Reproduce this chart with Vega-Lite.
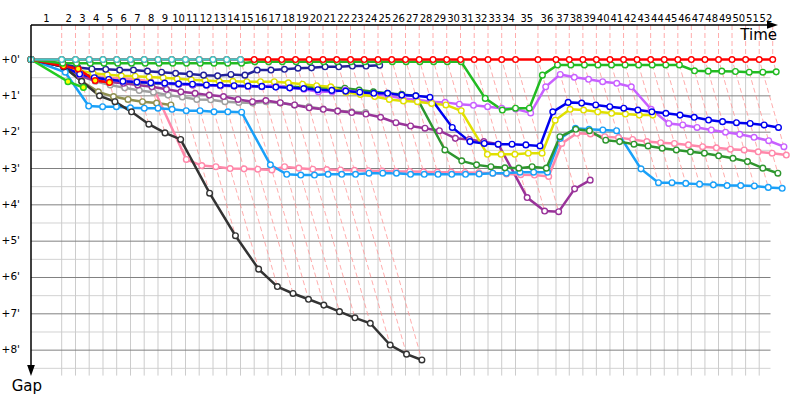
{
"$schema": "https://vega.github.io/schema/vega-lite/v6.json",
"width": 769, "height": 375,
"autosize": {"type": "none"},
"padding": {"left": 31, "top": 25, "right": 0, "bottom": 0},
"background": "white",
"config": {"view": {"stroke": null}, "axis": {"disable": true}, "font": "DejaVu Sans"},
"datasets": {
"minor": [{"gap":0.5},{"gap":1.5},{"gap":2.5},{"gap":3.5},{"gap":4.5},{"gap":5.5},{"gap":6.5},{"gap":7.5},{"gap":8.5}],
"major": [{"gap":1},{"gap":2},{"gap":3},{"gap":4},{"gap":5},{"gap":6},{"gap":7},{"gap":8}],
"vgrid": [{"lap":1,"time":2.98},{"lap":2,"time":4.32},{"lap":3,"time":5.65},{"lap":4,"time":6.99},{"lap":5,"time":8.32},{"lap":6,"time":9.66},{"lap":7,"time":10.99},{"lap":8,"time":12.33},{"lap":9,"time":13.66},{"lap":10,"time":15.0},{"lap":11,"time":16.33},{"lap":12,"time":17.67},{"lap":13,"time":19.0},{"lap":14,"time":20.34},{"lap":15,"time":21.67},{"lap":16,"time":23.01},{"lap":17,"time":24.34},{"lap":18,"time":25.68},{"lap":19,"time":27.01},{"lap":20,"time":28.35},{"lap":21,"time":29.68},{"lap":22,"time":31.02},{"lap":23,"time":32.35},{"lap":24,"time":33.69},{"lap":25,"time":35.02},{"lap":26,"time":36.36},{"lap":27,"time":37.69},{"lap":28,"time":39.03},{"lap":29,"time":40.36},{"lap":30,"time":41.7},{"lap":31,"time":43.03},{"lap":32,"time":44.37},{"lap":33,"time":45.7},{"lap":34,"time":47.04},{"lap":35,"time":49.22},{"lap":36,"time":50.97},{"lap":37,"time":52.26},{"lap":38,"time":53.58},{"lap":39,"time":54.89},{"lap":40,"time":56.21},{"lap":41,"time":57.53},{"lap":42,"time":58.84},{"lap":43,"time":60.16},{"lap":44,"time":61.48},{"lap":45,"time":62.8},{"lap":46,"time":64.11},{"lap":47,"time":65.43},{"lap":48,"time":66.75},{"lap":49,"time":68.06},{"lap":50,"time":69.38},{"lap":51,"time":70.7}],
"laplabels": [{"lap":1,"mid":1.49},{"lap":2,"mid":3.65},{"lap":3,"mid":4.985},{"lap":4,"mid":6.32},{"lap":5,"mid":7.655},{"lap":6,"mid":8.99},{"lap":7,"mid":10.325},{"lap":8,"mid":11.66},{"lap":9,"mid":12.995},{"lap":10,"mid":14.33},{"lap":11,"mid":15.665},{"lap":12,"mid":17.0},{"lap":13,"mid":18.335},{"lap":14,"mid":19.67},{"lap":15,"mid":21.005},{"lap":16,"mid":22.34},{"lap":17,"mid":23.675},{"lap":18,"mid":25.01},{"lap":19,"mid":26.345},{"lap":20,"mid":27.68},{"lap":21,"mid":29.015},{"lap":22,"mid":30.35},{"lap":23,"mid":31.685},{"lap":24,"mid":33.02},{"lap":25,"mid":34.355},{"lap":26,"mid":35.69},{"lap":27,"mid":37.025},{"lap":28,"mid":38.36},{"lap":29,"mid":39.695},{"lap":30,"mid":41.03},{"lap":31,"mid":42.365},{"lap":32,"mid":43.7},{"lap":33,"mid":45.035},{"lap":34,"mid":46.37},{"lap":35,"mid":48.13},{"lap":36,"mid":50.095},{"lap":37,"mid":51.615},{"lap":38,"mid":52.92},{"lap":39,"mid":54.235},{"lap":40,"mid":55.55},{"lap":41,"mid":56.87},{"lap":42,"mid":58.185},{"lap":43,"mid":59.5},{"lap":44,"mid":60.82},{"lap":45,"mid":62.14},{"lap":46,"mid":63.455},{"lap":47,"mid":64.77},{"lap":48,"mid":66.09},{"lap":49,"mid":67.405},{"lap":50,"mid":68.72},{"lap":51,"mid":70.04},{"lap":52,"mid":71.355}],
"ylabels": [{"gap":0,"label":"+0'"},{"gap":1,"label":"+1'"},{"gap":2,"label":"+2'"},{"gap":3,"label":"+3'"},{"gap":4,"label":"+4'"},{"gap":5,"label":"+5'"},{"gap":6,"label":"+6'"},{"gap":7,"label":"+7'"},{"gap":8,"label":"+8'"}],
"laplines": [
{"lap":1,"seq":0,"time":2.98,"gap":-0.95},{"lap":1,"seq":1,"time":2.98,"gap":0},{"lap":1,"seq":2,"time":3.59,"gap":0.61},
{"lap":2,"seq":0,"time":4.32,"gap":-0.95},{"lap":2,"seq":1,"time":4.32,"gap":0},{"lap":2,"seq":2,"time":5.6,"gap":1.28},
{"lap":3,"seq":0,"time":5.65,"gap":-0.95},{"lap":3,"seq":1,"time":5.65,"gap":0},{"lap":3,"seq":2,"time":6.95,"gap":1.3},
{"lap":4,"seq":0,"time":6.99,"gap":-0.95},{"lap":4,"seq":1,"time":6.99,"gap":0},{"lap":4,"seq":2,"time":8.29,"gap":1.3},
{"lap":5,"seq":0,"time":8.32,"gap":-0.95},{"lap":5,"seq":1,"time":8.32,"gap":0},{"lap":5,"seq":2,"time":9.76,"gap":1.44},
{"lap":6,"seq":0,"time":9.66,"gap":-0.95},{"lap":6,"seq":1,"time":9.66,"gap":0},{"lap":6,"seq":2,"time":11.44,"gap":1.78},
{"lap":7,"seq":0,"time":10.99,"gap":-0.95},{"lap":7,"seq":1,"time":10.99,"gap":0},{"lap":7,"seq":2,"time":13.01,"gap":2.02},
{"lap":8,"seq":0,"time":12.33,"gap":-0.95},{"lap":8,"seq":1,"time":12.33,"gap":0},{"lap":8,"seq":2,"time":15.08,"gap":2.75},
{"lap":9,"seq":0,"time":13.66,"gap":-0.95},{"lap":9,"seq":1,"time":13.66,"gap":0},{"lap":9,"seq":2,"time":17.34,"gap":3.68},
{"lap":10,"seq":0,"time":15.0,"gap":-0.95},{"lap":10,"seq":1,"time":15.0,"gap":0},{"lap":10,"seq":2,"time":19.85,"gap":4.85},
{"lap":11,"seq":0,"time":16.33,"gap":-0.95},{"lap":11,"seq":1,"time":16.33,"gap":0},{"lap":11,"seq":2,"time":22.1,"gap":5.77},
{"lap":12,"seq":0,"time":17.67,"gap":-0.95},{"lap":12,"seq":1,"time":17.67,"gap":0},{"lap":12,"seq":2,"time":23.92,"gap":6.25},
{"lap":13,"seq":0,"time":19.0,"gap":-0.95},{"lap":13,"seq":1,"time":19.0,"gap":0},{"lap":13,"seq":2,"time":25.44,"gap":6.44},
{"lap":14,"seq":0,"time":20.34,"gap":-0.95},{"lap":14,"seq":1,"time":20.34,"gap":0},{"lap":14,"seq":2,"time":26.94,"gap":6.6},
{"lap":15,"seq":0,"time":21.67,"gap":-0.95},{"lap":15,"seq":1,"time":21.67,"gap":0},{"lap":15,"seq":2,"time":28.43,"gap":6.76},
{"lap":16,"seq":0,"time":23.01,"gap":-0.95},{"lap":16,"seq":1,"time":23.01,"gap":0},{"lap":16,"seq":2,"time":29.95,"gap":6.94},
{"lap":17,"seq":0,"time":24.34,"gap":-0.95},{"lap":17,"seq":1,"time":24.34,"gap":0},{"lap":17,"seq":2,"time":31.45,"gap":7.11},
{"lap":18,"seq":0,"time":25.68,"gap":-0.95},{"lap":18,"seq":1,"time":25.68,"gap":0},{"lap":18,"seq":2,"time":32.94,"gap":7.26},
{"lap":19,"seq":0,"time":27.01,"gap":-0.95},{"lap":19,"seq":1,"time":27.01,"gap":0},{"lap":19,"seq":2,"time":34.87,"gap":7.86},
{"lap":20,"seq":0,"time":28.35,"gap":-0.95},{"lap":20,"seq":1,"time":28.35,"gap":0},{"lap":20,"seq":2,"time":36.46,"gap":8.11},
{"lap":21,"seq":0,"time":29.68,"gap":-0.95},{"lap":21,"seq":1,"time":29.68,"gap":0},{"lap":21,"seq":2,"time":37.95,"gap":8.27},
{"lap":22,"seq":0,"time":31.02,"gap":-0.95},{"lap":22,"seq":1,"time":31.02,"gap":0},{"lap":22,"seq":2,"time":34.15,"gap":3.13},
{"lap":23,"seq":0,"time":32.35,"gap":-0.95},{"lap":23,"seq":1,"time":32.35,"gap":0},{"lap":23,"seq":2,"time":35.48,"gap":3.13},
{"lap":24,"seq":0,"time":33.69,"gap":-0.95},{"lap":24,"seq":1,"time":33.69,"gap":0},{"lap":24,"seq":2,"time":36.85,"gap":3.16},
{"lap":25,"seq":0,"time":35.02,"gap":-0.95},{"lap":25,"seq":1,"time":35.02,"gap":0},{"lap":25,"seq":2,"time":38.18,"gap":3.16},
{"lap":26,"seq":0,"time":36.36,"gap":-0.95},{"lap":26,"seq":1,"time":36.36,"gap":0},{"lap":26,"seq":2,"time":39.52,"gap":3.16},
{"lap":27,"seq":0,"time":37.69,"gap":-0.95},{"lap":27,"seq":1,"time":37.69,"gap":0},{"lap":27,"seq":2,"time":40.85,"gap":3.16},
{"lap":28,"seq":0,"time":39.03,"gap":-0.95},{"lap":28,"seq":1,"time":39.03,"gap":0},{"lap":28,"seq":2,"time":42.19,"gap":3.16},
{"lap":29,"seq":0,"time":40.36,"gap":-0.95},{"lap":29,"seq":1,"time":40.36,"gap":0},{"lap":29,"seq":2,"time":43.51,"gap":3.15},
{"lap":30,"seq":0,"time":41.7,"gap":-0.95},{"lap":30,"seq":1,"time":41.7,"gap":0},{"lap":30,"seq":2,"time":44.83,"gap":3.13},
{"lap":31,"seq":0,"time":43.03,"gap":-0.95},{"lap":31,"seq":1,"time":43.03,"gap":0},{"lap":31,"seq":2,"time":46.18,"gap":3.15},
{"lap":32,"seq":0,"time":44.37,"gap":-0.95},{"lap":32,"seq":1,"time":44.37,"gap":0},{"lap":32,"seq":2,"time":48.17,"gap":3.8},
{"lap":33,"seq":0,"time":45.7,"gap":-0.95},{"lap":33,"seq":1,"time":45.7,"gap":0},{"lap":33,"seq":2,"time":49.87,"gap":4.17},
{"lap":34,"seq":0,"time":47.04,"gap":-0.95},{"lap":34,"seq":1,"time":47.04,"gap":0},{"lap":34,"seq":2,"time":51.23,"gap":4.19},
{"lap":35,"seq":0,"time":49.22,"gap":-0.95},{"lap":35,"seq":1,"time":49.22,"gap":0},{"lap":35,"seq":2,"time":52.78,"gap":3.56},
{"lap":36,"seq":0,"time":50.97,"gap":-0.95},{"lap":36,"seq":1,"time":50.97,"gap":0},{"lap":36,"seq":2,"time":54.29,"gap":3.32},
{"lap":37,"seq":0,"time":52.26,"gap":-0.95},{"lap":37,"seq":1,"time":52.26,"gap":0},{"lap":37,"seq":2,"time":54.31,"gap":2.05},
{"lap":38,"seq":0,"time":53.58,"gap":-0.95},{"lap":38,"seq":1,"time":53.58,"gap":0},{"lap":38,"seq":2,"time":55.8,"gap":2.22},
{"lap":39,"seq":0,"time":54.89,"gap":-0.95},{"lap":39,"seq":1,"time":54.89,"gap":0},{"lap":39,"seq":2,"time":57.15,"gap":2.26},
{"lap":40,"seq":0,"time":56.21,"gap":-0.95},{"lap":40,"seq":1,"time":56.21,"gap":0},{"lap":40,"seq":2,"time":59.22,"gap":3.01},
{"lap":41,"seq":0,"time":57.53,"gap":-0.95},{"lap":41,"seq":1,"time":57.53,"gap":0},{"lap":41,"seq":2,"time":60.92,"gap":3.39},
{"lap":42,"seq":0,"time":58.84,"gap":-0.95},{"lap":42,"seq":1,"time":58.84,"gap":0},{"lap":42,"seq":2,"time":62.23,"gap":3.39},
{"lap":43,"seq":0,"time":60.16,"gap":-0.95},{"lap":43,"seq":1,"time":60.16,"gap":0},{"lap":43,"seq":2,"time":63.57,"gap":3.41},
{"lap":44,"seq":0,"time":61.48,"gap":-0.95},{"lap":44,"seq":1,"time":61.48,"gap":0},{"lap":44,"seq":2,"time":64.91,"gap":3.43},
{"lap":45,"seq":0,"time":62.8,"gap":-0.95},{"lap":45,"seq":1,"time":62.8,"gap":0},{"lap":45,"seq":2,"time":66.25,"gap":3.45},
{"lap":46,"seq":0,"time":64.11,"gap":-0.95},{"lap":46,"seq":1,"time":64.11,"gap":0},{"lap":46,"seq":2,"time":67.58,"gap":3.47},
{"lap":47,"seq":0,"time":65.43,"gap":-0.95},{"lap":47,"seq":1,"time":65.43,"gap":0},{"lap":47,"seq":2,"time":68.9,"gap":3.47},
{"lap":48,"seq":0,"time":66.75,"gap":-0.95},{"lap":48,"seq":1,"time":66.75,"gap":0},{"lap":48,"seq":2,"time":70.23,"gap":3.48},
{"lap":49,"seq":0,"time":68.06,"gap":-0.95},{"lap":49,"seq":1,"time":68.06,"gap":0},{"lap":49,"seq":2,"time":71.58,"gap":3.52},
{"lap":50,"seq":0,"time":69.38,"gap":-0.95},{"lap":50,"seq":1,"time":69.38,"gap":0},{"lap":50,"seq":2,"time":72.93,"gap":3.545},
{"lap":51,"seq":0,"time":70.7,"gap":-0.95},{"lap":51,"seq":1,"time":70.7,"gap":0},{"lap":51,"seq":2,"time":73.33,"gap":2.63},
{"lap":52,"seq":0,"time":72.01,"gap":-0.95},{"lap":52,"seq":1,"time":72.01,"gap":0},{"lap":52,"seq":2,"time":72.35,"gap":0.34}
],
"series": [
{"car":"grey","lap":0,"gap":0,"time":0},{"car":"grey","lap":1,"gap":0.15,"time":3.13},{"car":"grey","lap":2,"gap":0.45,"time":4.77},{"car":"grey","lap":3,"gap":0.6,"time":6.25},{"car":"grey","lap":4,"gap":0.7,"time":7.69},{"car":"grey","lap":5,"gap":0.78,"time":9.1},{"car":"grey","lap":6,"gap":0.85,"time":10.51},{"car":"grey","lap":7,"gap":0.9,"time":11.89},{"car":"grey","lap":8,"gap":0.98,"time":13.31},{"car":"grey","lap":9,"gap":1.03,"time":14.69},{"car":"grey","lap":10,"gap":1.1,"time":16.1},{"car":"grey","lap":11,"gap":1.11,"time":17.44},{"car":"grey","lap":12,"gap":1.16,"time":18.83},{"car":"grey","lap":13,"gap":1.18,"time":20.18},{"car":"grey","lap":14,"gap":1.2,"time":21.54},{"car":"grey","lap":15,"gap":1.16,"time":22.83},{"car":"grey","lap":16,"gap":1.2,"time":24.21},{"car":"grey","lap":17,"gap":1.25,"time":25.59},{"car":"grey","lap":18,"gap":1.3,"time":26.98},{"car":"grey","lap":19,"gap":1.36,"time":28.37},{"car":"grey","lap":20,"gap":1.41,"time":29.76},{"car":"grey","lap":21,"gap":1.44,"time":31.12},{"car":"grey","lap":22,"gap":1.46,"time":32.48},
{"car":"olive","lap":0,"gap":0,"time":0},{"car":"olive","lap":1,"gap":0.2,"time":3.18},{"car":"olive","lap":2,"gap":0.6,"time":4.92},{"car":"olive","lap":3,"gap":0.89,"time":6.54},{"car":"olive","lap":4,"gap":1.02,"time":8.01},{"car":"olive","lap":5,"gap":1.1,"time":9.42},{"car":"olive","lap":6,"gap":1.16,"time":10.82},{"car":"olive","lap":7,"gap":1.2,"time":12.19},{"car":"olive","lap":8,"gap":1.25,"time":13.58},
{"car":"purple","lap":0,"gap":0,"time":0},{"car":"purple","lap":1,"gap":0.15,"time":3.13},{"car":"purple","lap":2,"gap":0.45,"time":4.77},{"car":"purple","lap":3,"gap":0.58,"time":6.23},{"car":"purple","lap":4,"gap":0.62,"time":7.61},{"car":"purple","lap":5,"gap":0.655,"time":8.98},{"car":"purple","lap":6,"gap":0.7,"time":10.36},{"car":"purple","lap":7,"gap":0.75,"time":11.74},{"car":"purple","lap":8,"gap":0.82,"time":13.15},{"car":"purple","lap":9,"gap":0.89,"time":14.55},{"car":"purple","lap":10,"gap":0.93,"time":15.93},{"car":"purple","lap":11,"gap":0.98,"time":17.31},{"car":"purple","lap":12,"gap":1.02,"time":18.69},{"car":"purple","lap":13,"gap":1.1,"time":20.1},{"car":"purple","lap":14,"gap":1.16,"time":21.5},{"car":"purple","lap":15,"gap":1.13,"time":22.8},{"car":"purple","lap":16,"gap":1.19,"time":24.2},{"car":"purple","lap":17,"gap":1.25,"time":25.59},{"car":"purple","lap":18,"gap":1.33,"time":27.01},{"car":"purple","lap":19,"gap":1.37,"time":28.38},{"car":"purple","lap":20,"gap":1.42,"time":29.77},{"car":"purple","lap":21,"gap":1.46,"time":31.14},{"car":"purple","lap":22,"gap":1.5,"time":32.52},{"car":"purple","lap":23,"gap":1.59,"time":33.94},{"car":"purple","lap":24,"gap":1.74,"time":35.43},{"car":"purple","lap":25,"gap":1.83,"time":36.85},{"car":"purple","lap":26,"gap":1.89,"time":38.25},{"car":"purple","lap":27,"gap":1.96,"time":39.65},{"car":"purple","lap":28,"gap":2.17,"time":41.2},{"car":"purple","lap":29,"gap":2.2,"time":42.56},{"car":"purple","lap":30,"gap":2.26,"time":43.96},{"car":"purple","lap":31,"gap":2.33,"time":45.36},{"car":"purple","lap":32,"gap":3.8,"time":48.17},{"car":"purple","lap":33,"gap":4.17,"time":49.87},{"car":"purple","lap":34,"gap":4.19,"time":51.23},{"car":"purple","lap":35,"gap":3.56,"time":52.78},{"car":"purple","lap":36,"gap":3.32,"time":54.29},
{"car":"pink","lap":0,"gap":0,"time":0},{"car":"pink","lap":1,"gap":0.2,"time":3.18},{"car":"pink","lap":2,"gap":0.4,"time":4.72},{"car":"pink","lap":3,"gap":0.45,"time":6.1},{"car":"pink","lap":4,"gap":0.5,"time":7.49},{"car":"pink","lap":5,"gap":0.52,"time":8.84},{"car":"pink","lap":6,"gap":0.55,"time":10.21},{"car":"pink","lap":7,"gap":0.6,"time":11.59},{"car":"pink","lap":8,"gap":2.75,"time":15.08},{"car":"pink","lap":9,"gap":2.92,"time":16.58},{"car":"pink","lap":10,"gap":2.95,"time":17.95},{"car":"pink","lap":11,"gap":3.0,"time":19.33},{"car":"pink","lap":12,"gap":3.01,"time":20.68},{"car":"pink","lap":13,"gap":3.02,"time":22.02},{"car":"pink","lap":14,"gap":3.04,"time":23.38},{"car":"pink","lap":15,"gap":2.95,"time":24.62},{"car":"pink","lap":16,"gap":2.99,"time":26.0},{"car":"pink","lap":17,"gap":3.02,"time":27.36},{"car":"pink","lap":18,"gap":3.03,"time":28.71},{"car":"pink","lap":19,"gap":3.04,"time":30.05},{"car":"pink","lap":20,"gap":3.05,"time":31.4},{"car":"pink","lap":21,"gap":3.06,"time":32.74},{"car":"pink","lap":22,"gap":3.07,"time":34.09},{"car":"pink","lap":23,"gap":3.08,"time":35.43},{"car":"pink","lap":24,"gap":3.08,"time":36.77},{"car":"pink","lap":25,"gap":3.09,"time":38.11},{"car":"pink","lap":26,"gap":3.1,"time":39.46},{"car":"pink","lap":27,"gap":3.1,"time":40.79},{"car":"pink","lap":28,"gap":3.11,"time":42.14},{"car":"pink","lap":29,"gap":3.12,"time":43.48},{"car":"pink","lap":30,"gap":3.13,"time":44.83},{"car":"pink","lap":31,"gap":3.15,"time":46.18},{"car":"pink","lap":32,"gap":3.17,"time":47.54},{"car":"pink","lap":33,"gap":3.18,"time":48.88},{"car":"pink","lap":34,"gap":3.22,"time":50.26},{"car":"pink","lap":35,"gap":2.31,"time":51.53},{"car":"pink","lap":36,"gap":2.03,"time":53.0},{"car":"pink","lap":37,"gap":2.05,"time":54.31},{"car":"pink","lap":38,"gap":2.125,"time":55.71},{"car":"pink","lap":39,"gap":2.15,"time":57.04},{"car":"pink","lap":40,"gap":2.2,"time":58.41},{"car":"pink","lap":41,"gap":2.26,"time":59.79},{"car":"pink","lap":42,"gap":2.29,"time":61.13},{"car":"pink","lap":43,"gap":2.31,"time":62.47},{"car":"pink","lap":44,"gap":2.35,"time":63.83},{"car":"pink","lap":45,"gap":2.4,"time":65.2},{"car":"pink","lap":46,"gap":2.43,"time":66.54},{"car":"pink","lap":47,"gap":2.47,"time":67.9},{"car":"pink","lap":48,"gap":2.49,"time":69.24},{"car":"pink","lap":49,"gap":2.54,"time":70.6},{"car":"pink","lap":50,"gap":2.58,"time":71.96},{"car":"pink","lap":51,"gap":2.63,"time":73.33},
{"car":"ltblue","lap":0,"gap":0,"time":0},{"car":"ltblue","lap":1,"gap":0.35,"time":3.33},{"car":"ltblue","lap":2,"gap":1.28,"time":5.6},{"car":"ltblue","lap":3,"gap":1.3,"time":6.95},{"car":"ltblue","lap":4,"gap":1.3,"time":8.29},{"car":"ltblue","lap":5,"gap":1.33,"time":9.65},{"car":"ltblue","lap":6,"gap":1.34,"time":11.0},{"car":"ltblue","lap":7,"gap":1.34,"time":12.33},{"car":"ltblue","lap":8,"gap":1.37,"time":13.7},{"car":"ltblue","lap":9,"gap":1.41,"time":15.07},{"car":"ltblue","lap":10,"gap":1.41,"time":16.41},{"car":"ltblue","lap":11,"gap":1.44,"time":17.77},{"car":"ltblue","lap":12,"gap":1.44,"time":19.11},{"car":"ltblue","lap":13,"gap":1.45,"time":20.45},{"car":"ltblue","lap":14,"gap":2.9,"time":23.24},{"car":"ltblue","lap":15,"gap":3.16,"time":24.83},{"car":"ltblue","lap":16,"gap":3.18,"time":26.19},{"car":"ltblue","lap":17,"gap":3.18,"time":27.52},{"car":"ltblue","lap":18,"gap":3.16,"time":28.84},{"car":"ltblue","lap":19,"gap":3.16,"time":30.17},{"car":"ltblue","lap":20,"gap":3.16,"time":31.51},{"car":"ltblue","lap":21,"gap":3.13,"time":32.81},{"car":"ltblue","lap":22,"gap":3.13,"time":34.15},{"car":"ltblue","lap":23,"gap":3.13,"time":35.48},{"car":"ltblue","lap":24,"gap":3.16,"time":36.85},{"car":"ltblue","lap":25,"gap":3.16,"time":38.18},{"car":"ltblue","lap":26,"gap":3.16,"time":39.52},{"car":"ltblue","lap":27,"gap":3.16,"time":40.85},{"car":"ltblue","lap":28,"gap":3.16,"time":42.19},{"car":"ltblue","lap":29,"gap":3.15,"time":43.51},{"car":"ltblue","lap":30,"gap":3.13,"time":44.83},{"car":"ltblue","lap":31,"gap":3.13,"time":46.16},{"car":"ltblue","lap":32,"gap":3.1,"time":47.47},{"car":"ltblue","lap":33,"gap":3.1,"time":48.8},{"car":"ltblue","lap":34,"gap":3.1,"time":50.14},{"car":"ltblue","lap":35,"gap":2.17,"time":51.39},{"car":"ltblue","lap":36,"gap":1.89,"time":52.86},{"car":"ltblue","lap":37,"gap":1.92,"time":54.18},{"car":"ltblue","lap":38,"gap":1.94,"time":55.52},{"car":"ltblue","lap":39,"gap":1.96,"time":56.85},{"car":"ltblue","lap":40,"gap":3.01,"time":59.22},{"car":"ltblue","lap":41,"gap":3.39,"time":60.92},{"car":"ltblue","lap":42,"gap":3.39,"time":62.23},{"car":"ltblue","lap":43,"gap":3.41,"time":63.57},{"car":"ltblue","lap":44,"gap":3.43,"time":64.91},{"car":"ltblue","lap":45,"gap":3.45,"time":66.25},{"car":"ltblue","lap":46,"gap":3.47,"time":67.58},{"car":"ltblue","lap":47,"gap":3.47,"time":68.9},{"car":"ltblue","lap":48,"gap":3.48,"time":70.23},{"car":"ltblue","lap":49,"gap":3.52,"time":71.58},{"car":"ltblue","lap":50,"gap":3.545,"time":72.93},
{"car":"dkgreen","lap":0,"gap":0,"time":0},{"car":"dkgreen","lap":1,"gap":0.15,"time":3.13},{"car":"dkgreen","lap":2,"gap":0.38,"time":4.7},{"car":"dkgreen","lap":3,"gap":0.48,"time":6.13},{"car":"dkgreen","lap":4,"gap":0.55,"time":7.54},{"car":"dkgreen","lap":5,"gap":0.6,"time":8.92},{"car":"dkgreen","lap":6,"gap":0.63,"time":10.29},{"car":"dkgreen","lap":7,"gap":0.65,"time":11.64},{"car":"dkgreen","lap":8,"gap":0.67,"time":13.0},{"car":"dkgreen","lap":9,"gap":0.68,"time":14.34},{"car":"dkgreen","lap":10,"gap":0.7,"time":15.7},{"car":"dkgreen","lap":11,"gap":0.71,"time":17.04},{"car":"dkgreen","lap":12,"gap":0.72,"time":18.39},{"car":"dkgreen","lap":13,"gap":0.73,"time":19.73},{"car":"dkgreen","lap":14,"gap":0.74,"time":21.08},{"car":"dkgreen","lap":15,"gap":0.74,"time":22.41},{"car":"dkgreen","lap":16,"gap":0.74,"time":23.75},{"car":"dkgreen","lap":17,"gap":0.75,"time":25.09},{"car":"dkgreen","lap":18,"gap":0.76,"time":26.44},{"car":"dkgreen","lap":19,"gap":0.77,"time":27.78},{"car":"dkgreen","lap":20,"gap":0.78,"time":29.13},{"car":"dkgreen","lap":21,"gap":0.79,"time":30.47},{"car":"dkgreen","lap":22,"gap":0.84,"time":31.86},{"car":"dkgreen","lap":23,"gap":0.89,"time":33.24},{"car":"dkgreen","lap":24,"gap":0.93,"time":34.62},{"car":"dkgreen","lap":25,"gap":0.96,"time":35.98},{"car":"dkgreen","lap":26,"gap":1.0,"time":37.36},{"car":"dkgreen","lap":27,"gap":2.49,"time":40.18},{"car":"dkgreen","lap":28,"gap":2.79,"time":41.82},{"car":"dkgreen","lap":29,"gap":2.9,"time":43.26},{"car":"dkgreen","lap":30,"gap":2.95,"time":44.65},{"car":"dkgreen","lap":31,"gap":2.98,"time":46.01},{"car":"dkgreen","lap":32,"gap":2.99,"time":47.36},{"car":"dkgreen","lap":33,"gap":2.95,"time":48.65},{"car":"dkgreen","lap":34,"gap":2.99,"time":50.03},{"car":"dkgreen","lap":35,"gap":2.125,"time":51.35},{"car":"dkgreen","lap":36,"gap":1.92,"time":52.89},{"car":"dkgreen","lap":37,"gap":1.96,"time":54.22},{"car":"dkgreen","lap":38,"gap":2.22,"time":55.8},{"car":"dkgreen","lap":39,"gap":2.26,"time":57.15},{"car":"dkgreen","lap":40,"gap":2.33,"time":58.54},{"car":"dkgreen","lap":41,"gap":2.38,"time":59.91},{"car":"dkgreen","lap":42,"gap":2.44,"time":61.28},{"car":"dkgreen","lap":43,"gap":2.49,"time":62.65},{"car":"dkgreen","lap":44,"gap":2.54,"time":64.02},{"car":"dkgreen","lap":45,"gap":2.58,"time":65.38},{"car":"dkgreen","lap":46,"gap":2.65,"time":66.76},{"car":"dkgreen","lap":47,"gap":2.72,"time":68.15},{"car":"dkgreen","lap":48,"gap":2.81,"time":69.56},{"car":"dkgreen","lap":49,"gap":2.99,"time":71.05},{"car":"dkgreen","lap":50,"gap":3.13,"time":72.51},
{"car":"violet","lap":0,"gap":0,"time":0},{"car":"violet","lap":1,"gap":0.15,"time":3.13},{"car":"violet","lap":2,"gap":0.4,"time":4.72},{"car":"violet","lap":3,"gap":0.5,"time":6.15},{"car":"violet","lap":4,"gap":0.55,"time":7.54},{"car":"violet","lap":5,"gap":0.6,"time":8.92},{"car":"violet","lap":6,"gap":0.62,"time":10.28},{"car":"violet","lap":7,"gap":0.64,"time":11.63},{"car":"violet","lap":8,"gap":0.66,"time":12.99},{"car":"violet","lap":9,"gap":0.68,"time":14.34},{"car":"violet","lap":10,"gap":0.7,"time":15.7},{"car":"violet","lap":11,"gap":0.71,"time":17.04},{"car":"violet","lap":12,"gap":0.72,"time":18.39},{"car":"violet","lap":13,"gap":0.73,"time":19.73},{"car":"violet","lap":14,"gap":0.74,"time":21.08},{"car":"violet","lap":15,"gap":0.75,"time":22.42},{"car":"violet","lap":16,"gap":0.7,"time":23.71},{"car":"violet","lap":17,"gap":0.78,"time":25.12},{"car":"violet","lap":18,"gap":0.82,"time":26.5},{"car":"violet","lap":19,"gap":0.89,"time":27.9},{"car":"violet","lap":20,"gap":0.89,"time":29.24},{"car":"violet","lap":21,"gap":0.84,"time":30.52},{"car":"violet","lap":22,"gap":0.91,"time":31.93},{"car":"violet","lap":23,"gap":0.95,"time":33.3},{"car":"violet","lap":24,"gap":1.0,"time":34.69},{"car":"violet","lap":25,"gap":1.07,"time":36.09},{"car":"violet","lap":26,"gap":1.11,"time":37.47},{"car":"violet","lap":27,"gap":1.16,"time":38.85},{"car":"violet","lap":28,"gap":1.18,"time":40.21},{"car":"violet","lap":29,"gap":1.23,"time":41.59},{"car":"violet","lap":30,"gap":1.26,"time":42.96},{"car":"violet","lap":31,"gap":1.3,"time":44.33},{"car":"violet","lap":32,"gap":1.34,"time":45.71},{"car":"violet","lap":33,"gap":1.36,"time":47.06},{"car":"violet","lap":34,"gap":1.47,"time":48.51},{"car":"violet","lap":35,"gap":0.75,"time":49.97},{"car":"violet","lap":36,"gap":0.41,"time":51.38},{"car":"violet","lap":37,"gap":0.49,"time":52.75},{"car":"violet","lap":38,"gap":0.545,"time":54.13},{"car":"violet","lap":39,"gap":0.61,"time":55.5},{"car":"violet","lap":40,"gap":0.655,"time":56.87},{"car":"violet","lap":41,"gap":0.75,"time":58.28},{"car":"violet","lap":42,"gap":1.37,"time":60.21},{"car":"violet","lap":43,"gap":1.76,"time":61.92},{"car":"violet","lap":44,"gap":1.8,"time":63.28},{"car":"violet","lap":45,"gap":1.87,"time":64.67},{"car":"violet","lap":46,"gap":1.94,"time":66.05},{"car":"violet","lap":47,"gap":2.0,"time":67.43},{"car":"violet","lap":48,"gap":2.06,"time":68.81},{"car":"violet","lap":49,"gap":2.14,"time":70.2},{"car":"violet","lap":50,"gap":2.235,"time":71.62},{"car":"violet","lap":51,"gap":2.4,"time":73.1},
{"car":"yellow","lap":0,"gap":0,"time":0},{"car":"yellow","lap":1,"gap":0.15,"time":3.13},{"car":"yellow","lap":2,"gap":0.3,"time":4.62},{"car":"yellow","lap":3,"gap":0.38,"time":6.03},{"car":"yellow","lap":4,"gap":0.42,"time":7.41},{"car":"yellow","lap":5,"gap":0.45,"time":8.77},{"car":"yellow","lap":6,"gap":0.46,"time":10.12},{"car":"yellow","lap":7,"gap":0.48,"time":11.47},{"car":"yellow","lap":8,"gap":0.5,"time":12.83},{"car":"yellow","lap":9,"gap":0.53,"time":14.19},{"car":"yellow","lap":10,"gap":0.56,"time":15.56},{"car":"yellow","lap":11,"gap":0.58,"time":16.91},{"car":"yellow","lap":12,"gap":0.6,"time":18.27},{"car":"yellow","lap":13,"gap":0.6,"time":19.6},{"car":"yellow","lap":14,"gap":0.61,"time":20.95},{"car":"yellow","lap":15,"gap":0.61,"time":22.28},{"car":"yellow","lap":16,"gap":0.61,"time":23.62},{"car":"yellow","lap":17,"gap":0.64,"time":24.98},{"car":"yellow","lap":18,"gap":0.68,"time":26.36},{"car":"yellow","lap":19,"gap":0.72,"time":27.73},{"car":"yellow","lap":20,"gap":0.75,"time":29.1},{"car":"yellow","lap":21,"gap":0.9,"time":30.58},{"car":"yellow","lap":22,"gap":0.96,"time":31.98},{"car":"yellow","lap":23,"gap":1.02,"time":33.37},{"car":"yellow","lap":24,"gap":1.1,"time":34.79},{"car":"yellow","lap":25,"gap":1.14,"time":36.16},{"car":"yellow","lap":26,"gap":1.16,"time":37.52},{"car":"yellow","lap":27,"gap":1.21,"time":38.9},{"car":"yellow","lap":28,"gap":1.25,"time":40.28},{"car":"yellow","lap":29,"gap":1.41,"time":41.77},{"car":"yellow","lap":30,"gap":2.61,"time":44.31},{"car":"yellow","lap":31,"gap":2.61,"time":45.64},{"car":"yellow","lap":32,"gap":2.61,"time":46.98},{"car":"yellow","lap":33,"gap":2.58,"time":48.28},{"car":"yellow","lap":34,"gap":2.58,"time":49.62},{"car":"yellow","lap":35,"gap":1.67,"time":50.89},{"car":"yellow","lap":36,"gap":1.37,"time":52.34},{"car":"yellow","lap":37,"gap":1.39,"time":53.65},{"car":"yellow","lap":38,"gap":1.44,"time":55.02},{"car":"yellow","lap":39,"gap":1.48,"time":56.37},{"car":"yellow","lap":40,"gap":1.5,"time":57.71},{"car":"yellow","lap":41,"gap":1.53,"time":59.06},{"car":"yellow","lap":42,"gap":1.53,"time":60.37},
{"car":"blue","lap":0,"gap":0,"time":0},{"car":"blue","lap":1,"gap":0.2,"time":3.18},{"car":"blue","lap":2,"gap":0.4,"time":4.72},{"car":"blue","lap":3,"gap":0.5,"time":6.15},{"car":"blue","lap":4,"gap":0.55,"time":7.54},{"car":"blue","lap":5,"gap":0.6,"time":8.92},{"car":"blue","lap":6,"gap":0.62,"time":10.28},{"car":"blue","lap":7,"gap":0.64,"time":11.63},{"car":"blue","lap":8,"gap":0.65,"time":12.98},{"car":"blue","lap":9,"gap":0.67,"time":14.33},{"car":"blue","lap":10,"gap":0.68,"time":15.68},{"car":"blue","lap":11,"gap":0.7,"time":17.03},{"car":"blue","lap":12,"gap":0.71,"time":18.38},{"car":"blue","lap":13,"gap":0.72,"time":19.72},{"car":"blue","lap":14,"gap":0.73,"time":21.07},{"car":"blue","lap":15,"gap":0.74,"time":22.41},{"car":"blue","lap":16,"gap":0.76,"time":23.77},{"car":"blue","lap":17,"gap":0.78,"time":25.12},{"car":"blue","lap":18,"gap":0.8,"time":26.48},{"car":"blue","lap":19,"gap":0.83,"time":27.84},{"car":"blue","lap":20,"gap":0.85,"time":29.2},{"car":"blue","lap":21,"gap":0.87,"time":30.55},{"car":"blue","lap":22,"gap":0.9,"time":31.92},{"car":"blue","lap":23,"gap":0.93,"time":33.28},{"car":"blue","lap":24,"gap":0.93,"time":34.62},{"car":"blue","lap":25,"gap":0.98,"time":36.0},{"car":"blue","lap":26,"gap":1.0,"time":37.36},{"car":"blue","lap":27,"gap":1.04,"time":38.73},{"car":"blue","lap":28,"gap":1.87,"time":40.9},{"car":"blue","lap":29,"gap":2.26,"time":42.62},{"car":"blue","lap":30,"gap":2.31,"time":44.01},{"car":"blue","lap":31,"gap":2.33,"time":45.36},{"car":"blue","lap":32,"gap":2.33,"time":46.7},{"car":"blue","lap":33,"gap":2.35,"time":48.05},{"car":"blue","lap":34,"gap":2.38,"time":49.42},{"car":"blue","lap":35,"gap":1.44,"time":50.66},{"car":"blue","lap":36,"gap":1.18,"time":52.15},{"car":"blue","lap":37,"gap":1.2,"time":53.46},{"car":"blue","lap":38,"gap":1.25,"time":54.83},{"car":"blue","lap":39,"gap":1.3,"time":56.19},{"car":"blue","lap":40,"gap":1.34,"time":57.55},{"car":"blue","lap":41,"gap":1.39,"time":58.92},{"car":"blue","lap":42,"gap":1.44,"time":60.28},{"car":"blue","lap":43,"gap":1.48,"time":61.64},{"car":"blue","lap":44,"gap":1.53,"time":63.01},{"car":"blue","lap":45,"gap":1.59,"time":64.39},{"car":"blue","lap":46,"gap":1.665,"time":65.78},{"car":"blue","lap":47,"gap":1.71,"time":67.14},{"car":"blue","lap":48,"gap":1.74,"time":68.49},{"car":"blue","lap":49,"gap":1.76,"time":69.82},{"car":"blue","lap":50,"gap":1.8,"time":71.18},{"car":"blue","lap":51,"gap":1.87,"time":72.57},
{"car":"navy","lap":0,"gap":0,"time":0},{"car":"navy","lap":1,"gap":0.12,"time":3.1},{"car":"navy","lap":2,"gap":0.22,"time":4.54},{"car":"navy","lap":3,"gap":0.26,"time":5.91},{"car":"navy","lap":4,"gap":0.27,"time":7.26},{"car":"navy","lap":5,"gap":0.29,"time":8.61},{"car":"navy","lap":6,"gap":0.29,"time":9.95},{"car":"navy","lap":7,"gap":0.32,"time":11.31},{"car":"navy","lap":8,"gap":0.35,"time":12.68},{"car":"navy","lap":9,"gap":0.38,"time":14.04},{"car":"navy","lap":10,"gap":0.4,"time":15.4},{"car":"navy","lap":11,"gap":0.43,"time":16.76},{"car":"navy","lap":12,"gap":0.45,"time":18.12},{"car":"navy","lap":13,"gap":0.41,"time":19.41},{"car":"navy","lap":14,"gap":0.43,"time":20.77},{"car":"navy","lap":15,"gap":0.29,"time":21.96},{"car":"navy","lap":16,"gap":0.29,"time":23.3},{"car":"navy","lap":17,"gap":0.27,"time":24.61},{"car":"navy","lap":18,"gap":0.24,"time":25.92},{"car":"navy","lap":19,"gap":0.23,"time":27.24},{"car":"navy","lap":20,"gap":0.2,"time":28.55},{"car":"navy","lap":21,"gap":0.2,"time":29.88},{"car":"navy","lap":22,"gap":0.18,"time":31.2},{"car":"navy","lap":23,"gap":0.18,"time":32.53},{"car":"navy","lap":24,"gap":0.16,"time":33.85},
{"car":"black","lap":0,"gap":0,"time":0},{"car":"black","lap":1,"gap":0.2,"time":3.18},{"car":"black","lap":2,"gap":0.6,"time":4.92},{"car":"black","lap":3,"gap":1.0,"time":6.65},{"car":"black","lap":4,"gap":1.16,"time":8.15},{"car":"black","lap":5,"gap":1.44,"time":9.76},{"car":"black","lap":6,"gap":1.78,"time":11.44},{"car":"black","lap":7,"gap":2.02,"time":13.01},{"car":"black","lap":8,"gap":2.2,"time":14.53},{"car":"black","lap":9,"gap":3.68,"time":17.34},{"car":"black","lap":10,"gap":4.85,"time":19.85},{"car":"black","lap":11,"gap":5.77,"time":22.1},{"car":"black","lap":12,"gap":6.25,"time":23.92},{"car":"black","lap":13,"gap":6.44,"time":25.44},{"car":"black","lap":14,"gap":6.6,"time":26.94},{"car":"black","lap":15,"gap":6.76,"time":28.43},{"car":"black","lap":16,"gap":6.94,"time":29.95},{"car":"black","lap":17,"gap":7.11,"time":31.45},{"car":"black","lap":18,"gap":7.26,"time":32.94},{"car":"black","lap":19,"gap":7.86,"time":34.87},{"car":"black","lap":20,"gap":8.11,"time":36.46},{"car":"black","lap":21,"gap":8.27,"time":37.95},
{"car":"greeny","lap":0,"gap":0,"time":0},{"car":"greeny","lap":1,"gap":0.61,"time":3.59},{"car":"greeny","lap":2,"gap":0.77,"time":5.09},
{"car":"redy","lap":0,"gap":0,"time":0},{"car":"redy","lap":1,"gap":0.18,"time":3.16},{"car":"redy","lap":2,"gap":0.26,"time":4.58},{"car":"redy","lap":3,"gap":0.58,"time":6.23},{"car":"redy","lap":4,"gap":0.63,"time":7.62},
{"car":"green","lap":0,"gap":0,"time":0},{"car":"green","lap":1,"gap":0.1,"time":3.08},{"car":"green","lap":2,"gap":0.1,"time":4.42},{"car":"green","lap":3,"gap":0.1,"time":5.75},{"car":"green","lap":4,"gap":0.1,"time":7.09},{"car":"green","lap":5,"gap":0.1,"time":8.42},{"car":"green","lap":6,"gap":0.1,"time":9.76},{"car":"green","lap":7,"gap":0.1,"time":11.09},{"car":"green","lap":8,"gap":0.1,"time":12.43},{"car":"green","lap":9,"gap":0.1,"time":13.76},{"car":"green","lap":10,"gap":0.1,"time":15.1},{"car":"green","lap":11,"gap":0.1,"time":16.43},{"car":"green","lap":12,"gap":0.1,"time":17.77},{"car":"green","lap":13,"gap":0.1,"time":19.1},{"car":"green","lap":14,"gap":0.1,"time":20.44},{"car":"green","lap":15,"gap":0.06,"time":21.73},{"car":"green","lap":16,"gap":0.06,"time":23.07},{"car":"green","lap":17,"gap":0.06,"time":24.4},{"car":"green","lap":18,"gap":0.06,"time":25.74},{"car":"green","lap":19,"gap":0.06,"time":27.07},{"car":"green","lap":20,"gap":0.06,"time":28.41},{"car":"green","lap":21,"gap":0.06,"time":29.74},{"car":"green","lap":22,"gap":0.06,"time":31.08},{"car":"green","lap":23,"gap":0.06,"time":32.41},{"car":"green","lap":24,"gap":0.06,"time":33.75},{"car":"green","lap":25,"gap":0.06,"time":35.08},{"car":"green","lap":26,"gap":0.06,"time":36.42},{"car":"green","lap":27,"gap":0.06,"time":37.75},{"car":"green","lap":28,"gap":0.06,"time":39.09},{"car":"green","lap":29,"gap":0.06,"time":40.42},{"car":"green","lap":30,"gap":0.06,"time":41.76},{"car":"green","lap":31,"gap":1.07,"time":44.1},{"car":"green","lap":32,"gap":1.39,"time":45.76},{"car":"green","lap":33,"gap":1.34,"time":47.04},{"car":"green","lap":34,"gap":1.34,"time":48.38},{"car":"green","lap":35,"gap":0.43,"time":49.65},{"car":"green","lap":36,"gap":0.15,"time":51.12},{"car":"green","lap":37,"gap":0.15,"time":52.41},{"car":"green","lap":38,"gap":0.15,"time":53.73},{"car":"green","lap":39,"gap":0.15,"time":55.04},{"car":"green","lap":40,"gap":0.15,"time":56.36},{"car":"green","lap":41,"gap":0.15,"time":57.68},{"car":"green","lap":42,"gap":0.15,"time":58.99},{"car":"green","lap":43,"gap":0.15,"time":60.31},{"car":"green","lap":44,"gap":0.15,"time":61.63},{"car":"green","lap":45,"gap":0.15,"time":62.95},{"car":"green","lap":46,"gap":0.31,"time":64.42},{"car":"green","lap":47,"gap":0.32,"time":65.75},{"car":"green","lap":48,"gap":0.32,"time":67.07},{"car":"green","lap":49,"gap":0.33,"time":68.39},{"car":"green","lap":50,"gap":0.35,"time":69.73},{"car":"green","lap":51,"gap":0.35,"time":71.05},{"car":"green","lap":52,"gap":0.34,"time":72.35},
{"car":"red","lap":0,"gap":0,"time":0},{"car":"red","lap":1,"gap":0,"time":2.98},{"car":"red","lap":2,"gap":0,"time":4.32},{"car":"red","lap":3,"gap":0,"time":5.65},{"car":"red","lap":4,"gap":0,"time":6.99},{"car":"red","lap":5,"gap":0,"time":8.32},{"car":"red","lap":6,"gap":0,"time":9.66},{"car":"red","lap":7,"gap":0,"time":10.99},{"car":"red","lap":8,"gap":0,"time":12.33},{"car":"red","lap":9,"gap":0,"time":13.66},{"car":"red","lap":10,"gap":0,"time":15.0},{"car":"red","lap":11,"gap":0,"time":16.33},{"car":"red","lap":12,"gap":0,"time":17.67},{"car":"red","lap":13,"gap":0,"time":19.0},{"car":"red","lap":14,"gap":0,"time":20.34},{"car":"red","lap":15,"gap":0,"time":21.67},{"car":"red","lap":16,"gap":0,"time":23.01},{"car":"red","lap":17,"gap":0,"time":24.34},{"car":"red","lap":18,"gap":0,"time":25.68},{"car":"red","lap":19,"gap":0,"time":27.01},{"car":"red","lap":20,"gap":0,"time":28.35},{"car":"red","lap":21,"gap":0,"time":29.68},{"car":"red","lap":22,"gap":0,"time":31.02},{"car":"red","lap":23,"gap":0,"time":32.35},{"car":"red","lap":24,"gap":0,"time":33.69},{"car":"red","lap":25,"gap":0,"time":35.02},{"car":"red","lap":26,"gap":0,"time":36.36},{"car":"red","lap":27,"gap":0,"time":37.69},{"car":"red","lap":28,"gap":0,"time":39.03},{"car":"red","lap":29,"gap":0,"time":40.36},{"car":"red","lap":30,"gap":0,"time":41.7},{"car":"red","lap":31,"gap":0,"time":43.03},{"car":"red","lap":32,"gap":0,"time":44.37},{"car":"red","lap":33,"gap":0,"time":45.7},{"car":"red","lap":34,"gap":0,"time":47.04},{"car":"red","lap":35,"gap":0,"time":49.22},{"car":"red","lap":36,"gap":0,"time":50.97},{"car":"red","lap":37,"gap":0,"time":52.26},{"car":"red","lap":38,"gap":0,"time":53.58},{"car":"red","lap":39,"gap":0,"time":54.89},{"car":"red","lap":40,"gap":0,"time":56.21},{"car":"red","lap":41,"gap":0,"time":57.53},{"car":"red","lap":42,"gap":0,"time":58.84},{"car":"red","lap":43,"gap":0,"time":60.16},{"car":"red","lap":44,"gap":0,"time":61.48},{"car":"red","lap":45,"gap":0,"time":62.8},{"car":"red","lap":46,"gap":0,"time":64.11},{"car":"red","lap":47,"gap":0,"time":65.43},{"car":"red","lap":48,"gap":0,"time":66.75},{"car":"red","lap":49,"gap":0,"time":68.06},{"car":"red","lap":50,"gap":0,"time":69.38},{"car":"red","lap":51,"gap":0,"time":70.7},{"car":"red","lap":52,"gap":0,"time":72.01},
{"car":"teal","lap":0,"gap":0,"time":0},{"car":"teal","lap":1,"gap":0,"time":2.98},{"car":"teal","lap":2,"gap":0,"time":4.32},{"car":"teal","lap":3,"gap":0,"time":5.65},{"car":"teal","lap":4,"gap":0,"time":6.99},{"car":"teal","lap":5,"gap":0,"time":8.32},{"car":"teal","lap":6,"gap":0,"time":9.66},{"car":"teal","lap":7,"gap":0,"time":10.99},{"car":"teal","lap":8,"gap":0,"time":12.33},{"car":"teal","lap":9,"gap":0,"time":13.66},{"car":"teal","lap":10,"gap":0,"time":15.0},{"car":"teal","lap":11,"gap":0,"time":16.33},{"car":"teal","lap":12,"gap":0,"time":17.67},{"car":"teal","lap":13,"gap":0,"time":19.0},{"car":"teal","lap":14,"gap":0,"time":20.34}
]
},
"layer": [
{"data": {"name": "minor"}, "mark": {"type": "rule", "color": "#d2d2d2", "strokeWidth": 1},
 "encoding": {"y": {"field": "gap", "type": "quantitative", "scale": {"domain": [-0.95, 9.372], "reverse": true, "nice": false, "zero": false}},
  "x": {"datum": 0, "type": "quantitative", "scale": {"domain": [0, 74.66], "nice": false, "zero": false}}, "x2": {"datum": 71.8}}},
{"data": {"name": "vgrid"}, "mark": {"type": "rule", "color": "#cccccc", "strokeWidth": 1},
 "encoding": {"x": {"field": "time", "type": "quantitative", "scale": {"domain": [0, 74.66], "nice": false, "zero": false}},
  "y": {"datum": 0, "type": "quantitative", "scale": {"domain": [-0.95, 9.372], "reverse": true, "nice": false, "zero": false}}, "y2": {"datum": 8.7}}},
{"data": {"name": "major"}, "mark": {"type": "rule", "color": "#808080", "strokeWidth": 1},
 "encoding": {"y": {"field": "gap", "type": "quantitative", "scale": {"domain": [-0.95, 9.372], "reverse": true, "nice": false, "zero": false}},
  "x": {"datum": 0, "type": "quantitative", "scale": {"domain": [0, 74.66], "nice": false, "zero": false}}, "x2": {"datum": 71.8}}},
{"data": {"name": "laplines"}, "mark": {"type": "line", "stroke": "#ff9090", "strokeWidth": 1, "strokeDash": [5, 3], "opacity": 0.75},
 "encoding": {"x": {"field": "time", "type": "quantitative", "scale": {"domain": [0, 74.66], "nice": false, "zero": false}},
  "y": {"field": "gap", "type": "quantitative", "scale": {"domain": [-0.95, 9.372], "reverse": true, "nice": false, "zero": false}},
  "detail": {"field": "lap"}, "order": {"field": "seq"}}},
{"data": {"name": "series"}, "mark": {"type": "line", "strokeWidth": 2.5},
 "encoding": {"x": {"field": "time", "type": "quantitative", "scale": {"domain": [0, 74.66], "nice": false, "zero": false}},
  "y": {"field": "gap", "type": "quantitative", "scale": {"domain": [-0.95, 9.372], "reverse": true, "nice": false, "zero": false}},
  "stroke": {"field": "car", "type": "nominal", "legend": null, "scale": {"domain": ["grey","olive","purple","pink","ltblue","dkgreen","violet","yellow","blue","navy","black","greeny","redy","green","red","teal"], "range": ["#a0a0a0","#8f8f4f","#993399","#ff88aa","#1aa0f8","#2e962e","#c860ff","#e0e000","#0000ee","#22229a","#333333","#22cc22","#ff0000","#22bb22","#ff0000","#40c8c8"]}},
  "order": {"field": "lap"}}},
{"data": {"name": "series"}, "mark": {"type": "point", "shape": "circle", "filled": true, "size": 32, "strokeWidth": 1.4, "opacity": 1},
 "encoding": {"x": {"field": "time", "type": "quantitative", "scale": {"domain": [0, 74.66], "nice": false, "zero": false}},
  "y": {"field": "gap", "type": "quantitative", "scale": {"domain": [-0.95, 9.372], "reverse": true, "nice": false, "zero": false}},
  "stroke": {"field": "car", "type": "nominal", "legend": null, "scale": {"domain": ["grey","olive","purple","pink","ltblue","dkgreen","violet","yellow","blue","navy","black","greeny","redy","green","red","teal"], "range": ["#a0a0a0","#8f8f4f","#993399","#ff88aa","#1aa0f8","#2e962e","#c860ff","#e0e000","#0000ee","#22229a","#333333","#22cc22","#ff0000","#22bb22","#ff0000","#40c8c8"]}},
  "fill": {"field": "car", "type": "nominal", "legend": null, "scale": {"domain": ["grey","olive","purple","pink","ltblue","dkgreen","violet","yellow","blue","navy","black","greeny","redy","green","red","teal"], "range": ["#ffffff","#ffffff","#ffffff","#ffffff","#ffffff","#ffffff","#ffffff","#ffffff","#ffffff","#ffffff","#ffffff","#ffff00","#ffff00","#ffffff","#ffffff","#ffffff"]}}}},
{"data": {"values": [{}]}, "mark": {"type": "rule", "color": "black", "strokeWidth": 1.5},
 "encoding": {"x": {"datum": 0, "type": "quantitative", "scale": {"domain": [0, 74.66], "nice": false, "zero": false}}, "x2": {"datum": 71.6},
  "y": {"datum": -0.95, "type": "quantitative", "scale": {"domain": [-0.95, 9.372], "reverse": true, "nice": false, "zero": false}}}},
{"data": {"values": [{}]}, "mark": {"type": "rule", "color": "black", "strokeWidth": 1.5},
 "encoding": {"x": {"datum": 0, "type": "quantitative", "scale": {"domain": [0, 74.66], "nice": false, "zero": false}},
  "y": {"datum": -0.95, "type": "quantitative", "scale": {"domain": [-0.95, 9.372], "reverse": true, "nice": false, "zero": false}}, "y2": {"datum": 8.45}}},
{"data": {"values": [{}]}, "mark": {"type": "point", "shape": "M-1,-0.7L1,0L-1,0.7Z", "size": 121, "filled": true, "color": "black", "opacity": 1},
 "encoding": {"x": {"datum": 71.99, "type": "quantitative", "scale": {"domain": [0, 74.66], "nice": false, "zero": false}},
  "y": {"datum": -0.95, "type": "quantitative", "scale": {"domain": [-0.95, 9.372], "reverse": true, "nice": false, "zero": false}}}},
{"data": {"values": [{}]}, "mark": {"type": "point", "shape": "M-0.7,-1L0.7,-1L0,1Z", "size": 121, "filled": true, "color": "black", "opacity": 1},
 "encoding": {"x": {"datum": 0, "type": "quantitative", "scale": {"domain": [0, 74.66], "nice": false, "zero": false}},
  "y": {"datum": 8.56, "type": "quantitative", "scale": {"domain": [-0.95, 9.372], "reverse": true, "nice": false, "zero": false}}}},
{"data": {"name": "laplabels"}, "mark": {"type": "text", "font": "DejaVu Sans", "fontSize": 10, "align": "center", "baseline": "alphabetic", "color": "black"},
 "encoding": {"x": {"field": "mid", "type": "quantitative", "scale": {"domain": [0, 74.66], "nice": false, "zero": false}},
  "y": {"datum": -1.03, "type": "quantitative", "scale": {"domain": [-0.95, 9.372], "reverse": true, "nice": false, "zero": false}},
  "text": {"field": "lap", "type": "nominal"}}},
{"data": {"name": "ylabels"}, "mark": {"type": "text", "font": "DejaVu Sans", "fontSize": 10.5, "align": "right", "baseline": "middle", "color": "black"},
 "encoding": {"x": {"datum": -1.07, "type": "quantitative", "scale": {"domain": [0, 74.66], "nice": false, "zero": false}},
  "y": {"field": "gap", "type": "quantitative", "scale": {"domain": [-0.95, 9.372], "reverse": true, "nice": false, "zero": false}},
  "text": {"field": "label", "type": "nominal"}}},
{"data": {"values": [{"label": "Time"}]}, "mark": {"type": "text", "font": "DejaVu Sans", "fontSize": 15, "align": "right", "baseline": "alphabetic", "color": "black"},
 "encoding": {"x": {"datum": 72.43, "type": "quantitative", "scale": {"domain": [0, 74.66], "nice": false, "zero": false}},
  "y": {"datum": -0.537, "type": "quantitative", "scale": {"domain": [-0.95, 9.372], "reverse": true, "nice": false, "zero": false}},
  "text": {"field": "label", "type": "nominal"}}},
{"data": {"values": [{"label": "Gap"}]}, "mark": {"type": "text", "font": "DejaVu Sans", "fontSize": 15, "align": "left", "baseline": "alphabetic", "color": "black"},
 "encoding": {"x": {"datum": -1.87, "type": "quantitative", "scale": {"domain": [0, 74.66], "nice": false, "zero": false}},
  "y": {"datum": 9.12, "type": "quantitative", "scale": {"domain": [-0.95, 9.372], "reverse": true, "nice": false, "zero": false}},
  "text": {"field": "label", "type": "nominal"}}}
]
}
